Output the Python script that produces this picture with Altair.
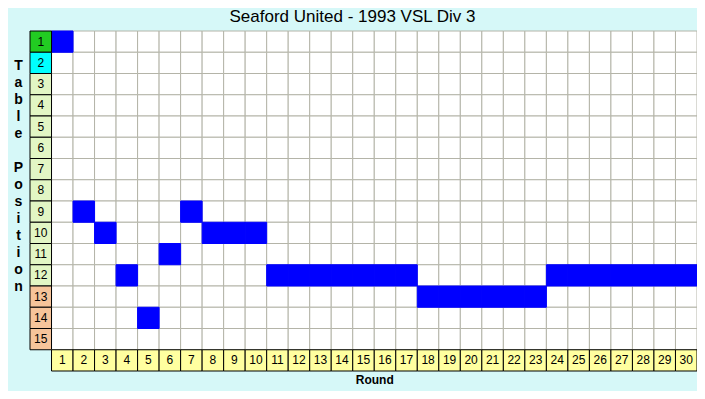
import altair as alt
import pandas as pd

title_text = "Seaford United - 1993 VSL Div 3"
rounds = list(range(1, 31))
positions = [1, 9, 10, 12, 14, 11, 9, 10, 10, 10,
             12, 12, 12, 12, 12, 12, 12, 13, 13, 13,
             13, 13, 13, 12, 12, 12, 12, 12, 12, 12]
table_positions = list(range(1, 16))
zones = ["first", "second"] + ["mid"] * 10 + ["bottom"] * 3

LABEL_ROW = 16
grid_df = pd.DataFrame([{"col": c, "row": r} for c in rounds for r in table_positions])
path_df = pd.DataFrame({"col": rounds, "row": positions})
pos_df = pd.DataFrame({"col": [0] * len(table_positions), "row": table_positions,
                       "zone": zones, "label": [str(p) for p in table_positions]})
rnd_df = pd.DataFrame({"col": rounds, "row": [LABEL_ROW] * len(rounds),
                       "label": [str(r) for r in rounds]})

W, H = 667, 340
cw = W / 31
FONT = "Liberation Sans"

xscale = alt.Scale(domain=list(range(0, 31)), paddingInner=0, paddingOuter=0)
yscale = alt.Scale(domain=list(range(1, 17)), paddingInner=0, paddingOuter=0)

xaxis = alt.Axis(labels=False, ticks=False, domain=False, grid=False, title="Round",
                 titleFontWeight="bold", titleFontSize=12, titleFont=FONT,
                 titlePadding=3, titleX=16 * cw, titleColor="black")
yaxis = alt.Axis(labels=False, ticks=False, domain=False, grid=False,
                 title=list("Table") + ["\u200b"] + list("Position"),
                 titleAngle=0, titleFontWeight="bold", titleFontSize=14, titleFont=FONT,
                 titleLineHeight=17, titleX=-12, titleY=27, titleAlign="center",
                 titleBaseline="top", titleColor="black")

X = alt.X("col:O", scale=xscale, axis=xaxis)
Y = alt.Y("row:O", scale=yscale, axis=yaxis)

grid = alt.Chart(grid_df).mark_rect(fill="white", stroke="#B4B4A8", strokeWidth=1).encode(x=X, y=Y)
path = alt.Chart(path_df).mark_rect(fill="#0000FF", stroke="#0000FF", strokeWidth=1).encode(x=X, y=Y)
pos_cells = alt.Chart(pos_df).mark_rect(stroke="black", strokeWidth=1).encode(
    x=X, y=Y,
    fill=alt.Fill("zone:N", legend=None,
                  scale=alt.Scale(domain=["first", "second", "mid", "bottom"],
                                  range=["#22CC22", "#00FFFF", "#E2F6C4", "#F6C49A"])))
pos_text = alt.Chart(pos_df).mark_text(font=FONT, fontSize=12, color="black").encode(
    x=X, y=Y, text="label:N")
rnd_cells = alt.Chart(rnd_df).mark_rect(fill="#FFFFA0", stroke="black", strokeWidth=1).encode(x=X, y=Y)
rnd_text = alt.Chart(rnd_df).mark_text(font=FONT, fontSize=12, color="black").encode(
    x=X, y=Y, text="label:N")

chart = alt.layer(grid, path, pos_cells, pos_text, rnd_cells, rnd_text).properties(
    width=W, height=H,
    autosize="none",
    padding={"left": 22, "top": 23, "right": 0, "bottom": 20},
    background="#D6F8F8",
    title=alt.TitleParams(title_text, font=FONT, fontSize=17, fontWeight="normal",
                          color="black", anchor="middle", offset=5, dx=-11),
).configure_view(stroke=None)

chart.save("out.html", embed_options={"renderer": "svg", "actions": False})
